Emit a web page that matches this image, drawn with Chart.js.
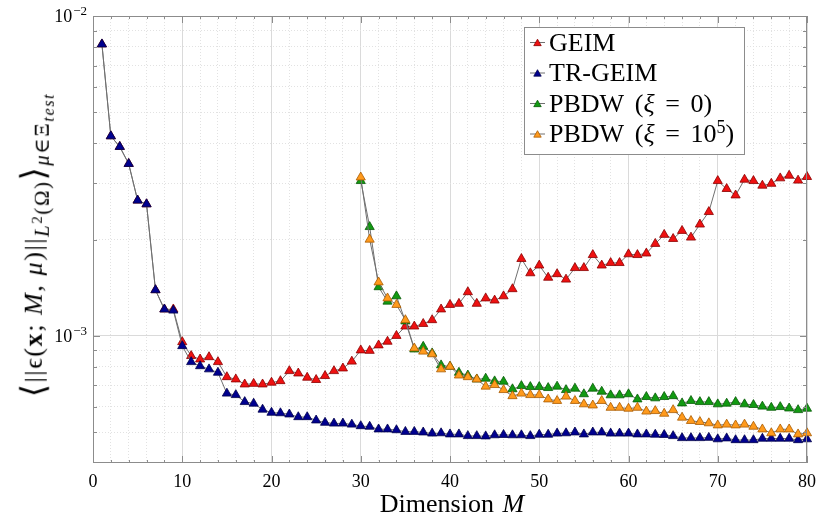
<!DOCTYPE html>
<html>
<head>
<meta charset="utf-8">
<script src="https://cdn.jsdelivr.net/npm/chart.js@4.4.1/dist/chart.umd.min.js"></script>
<style>
  body { margin: 0; background: #fff; }
  #wrap { position: relative; width: 824px; height: 522px; }
  #ylab {
    position: absolute; left: 36px; top: 245px;
    transform: translate(-50%, -50%) rotate(-90deg);
    white-space: nowrap; line-height: 1; letter-spacing: 1.6px;
    font: 26px "Liberation Serif", "DejaVu Serif", serif; color: #000;
  }
  #ylab .br { font-size: 1.3em; vertical-align: -0.08em; }
  #ylab sub { font-size: 0.8em; vertical-align: -0.32em; }
  #ylab sub sub { font-size: 0.78em; vertical-align: -0.28em; }
  #ylab sup { font-size: 0.72em; vertical-align: 0.45em; }
</style>
</head>
<body>
<div id="wrap">
  <canvas id="errChart" width="824" height="522"></canvas>
  <div id="ylab"><span class="br">⟨</span>||ϵ(<b>x</b>; <i>M</i>, <i>μ</i>)||<sub><i>L</i><sup>2</sup>(Ω)</sub><span class="br">⟩</span><sub><i>μ</i>∈Ξ<sub><i>test</i></sub></sub></div>
</div>
<script>
// reduced basis dimension M
const dims = Array.from({ length: 80 }, (_, i) => i + 1);
const pbdwDims = dims.slice(29); // PBDW starts at M = 30

const geim = [
  8.16e-3, 4.21e-3, 3.90e-3, 3.45e-3, 2.65e-3, 2.58e-3, 1.39e-3, 1.21e-3, 1.21e-3, 9.56e-4,
  8.65e-4, 8.44e-4, 8.58e-4, 8.28e-4, 7.43e-4, 7.31e-4, 7.05e-4, 7.08e-4, 7.05e-4, 7.14e-4,
  7.22e-4, 7.76e-4, 7.63e-4, 7.40e-4, 7.28e-4, 7.49e-4, 7.76e-4, 7.91e-4, 8.31e-4, 9.01e-4,
  8.98e-4, 9.34e-4, 9.59e-4, 1.00e-3, 1.07e-3, 1.07e-3, 1.09e-3, 1.12e-3, 1.21e-3, 1.25e-3,
  1.26e-3, 1.37e-3, 1.26e-3, 1.31e-3, 1.29e-3, 1.33e-3, 1.40e-3, 1.74e-3, 1.57e-3, 1.66e-3,
  1.52e-3, 1.56e-3, 1.50e-3, 1.63e-3, 1.63e-3, 1.79e-3, 1.66e-3, 1.69e-3, 1.69e-3, 1.80e-3,
  1.79e-3, 1.81e-3, 1.94e-3, 2.07e-3, 2.01e-3, 2.13e-3, 2.03e-3, 2.23e-3, 2.44e-3, 3.05e-3,
  2.88e-3, 2.75e-3, 3.08e-3, 3.05e-3, 2.95e-3, 2.99e-3, 3.11e-3, 3.17e-3, 3.06e-3, 3.14e-3,
];

const trGeim = [
  8.16e-3, 4.21e-3, 3.90e-3, 3.45e-3, 2.65e-3, 2.58e-3, 1.39e-3, 1.21e-3, 1.20e-3, 9.29e-4,
  8.28e-4, 8.04e-4, 7.86e-4, 7.67e-4, 6.60e-4, 6.53e-4, 6.21e-4, 6.14e-4, 5.88e-4, 5.75e-4,
  5.73e-4, 5.68e-4, 5.57e-4, 5.57e-4, 5.44e-4, 5.35e-4, 5.32e-4, 5.32e-4, 5.28e-4, 5.22e-4,
  5.20e-4, 5.10e-4, 5.10e-4, 5.07e-4, 5.01e-4, 5.01e-4, 4.99e-4, 4.95e-4, 4.96e-4, 4.92e-4,
  4.92e-4, 4.86e-4, 4.86e-4, 4.85e-4, 4.89e-4, 4.90e-4, 4.89e-4, 4.89e-4, 4.86e-4, 4.91e-4,
  4.91e-4, 4.95e-4, 4.96e-4, 4.99e-4, 4.92e-4, 4.99e-4, 4.99e-4, 4.95e-4, 4.95e-4, 4.95e-4,
  4.92e-4, 4.92e-4, 4.91e-4, 4.90e-4, 4.86e-4, 4.79e-4, 4.79e-4, 4.79e-4, 4.80e-4, 4.75e-4,
  4.78e-4, 4.72e-4, 4.72e-4, 4.72e-4, 4.77e-4, 4.77e-4, 4.77e-4, 4.77e-4, 4.72e-4, 4.75e-4,
];

const pbdw0 = [
  3.05e-3, 2.19e-3, 1.42e-3, 1.28e-3, 1.33e-3, 1.11e-3, 9.07e-4, 9.25e-4, 8.82e-4, 8.09e-4,
  8.01e-4, 7.67e-4, 7.52e-4, 7.31e-4, 7.35e-4, 7.21e-4, 7.19e-4, 6.81e-4, 6.97e-4, 6.92e-4,
  6.92e-4, 6.87e-4, 6.94e-4, 6.77e-4, 6.84e-4, 6.57e-4, 6.84e-4, 6.69e-4, 6.52e-4, 6.52e-4,
  6.57e-4, 6.33e-4, 6.44e-4, 6.38e-4, 6.44e-4, 6.48e-4, 6.15e-4, 6.26e-4, 6.21e-4, 6.21e-4,
  6.11e-4, 6.14e-4, 6.21e-4, 6.11e-4, 6.08e-4, 6.01e-4, 5.96e-4, 5.99e-4, 5.93e-4, 5.86e-4,
  5.92e-4,
];

const pbdw1e5 = [
  3.13e-3, 2.00e-3, 1.47e-3, 1.31e-3, 1.25e-3, 1.12e-3, 9.14e-4, 8.93e-4, 8.76e-4, 7.86e-4,
  8.01e-4, 7.52e-4, 7.43e-4, 7.31e-4, 6.94e-4, 7.02e-4, 6.77e-4, 6.48e-4, 6.60e-4, 6.53e-4,
  6.53e-4, 6.33e-4, 6.26e-4, 6.46e-4, 6.26e-4, 6.11e-4, 6.06e-4, 6.26e-4, 5.96e-4, 5.96e-4,
  5.92e-4, 5.96e-4, 5.80e-4, 5.82e-4, 5.71e-4, 5.86e-4, 5.55e-4, 5.42e-4, 5.38e-4, 5.33e-4,
  5.25e-4, 5.28e-4, 5.25e-4, 5.28e-4, 5.20e-4, 5.10e-4, 4.96e-4, 5.10e-4, 5.10e-4, 4.92e-4,
  4.96e-4,
];

const seriesLabels = ["GEIM", "TR-GEIM", "PBDW (ξ = 0)", "PBDW (ξ = 10⁵)"];
const xTitle = "Dimension M";

// tick positions: x every 2, y at 1..9 per decade
const xTicks = [];
for (let v = 0; v <= 80; v += 2) xTicks.push(v);
const yTicks = [5e-4, 6e-4, 7e-4, 8e-4, 9e-4, 1e-3, 2e-3, 3e-3, 4e-3, 5e-3, 6e-3, 7e-3, 8e-3, 9e-3, 1e-2];
const yDecades = [1e-3, 1e-2];

const SERIF = '"Liberation Serif", "DejaVu Serif", serif';
const isDecade = (v) => Math.abs(Math.log10(v) - Math.round(Math.log10(v))) < 1e-9;

const pts = (xs, ys) => xs.map((x, i) => ({ x, y: ys[i] }));

const makeSet = (label, data, fill, edge, order) => ({
  label,
  data,
  order,
  borderColor: "#707070",
  borderWidth: 1,
  pointStyle: "triangle",
  pointRadius: 5.3,
  pointBorderWidth: 0.8,
  pointBackgroundColor: fill,
  pointBorderColor: edge,
  tension: 0,
  clip: false,
});

// draws text with italic greek letters / math symbols and raised superscript digits
function drawRich(ctx, text, x, base, size, italicChars = "", spaceExtra = 0.16) {
  const supDigits = "⁰¹²³⁴⁵⁶⁷⁸⁹";
  const runs = [];
  for (const ch of text) {
    let t = ch, dy = 0, font = `${size}px ${SERIF}`, extra = 0;
    if (/[α-ω]/.test(ch) || italicChars.includes(ch)) font = `italic ${size}px ${SERIF}`;
    if (ch === " ") extra = size * spaceExtra;
    const s = supDigits.indexOf(ch);
    if (s >= 0) { t = String(s); font = `${Math.round(size * 0.7)}px ${SERIF}`; dy = -size * 0.36; }
    runs.push({ t, dy, font, extra });
  }
  let w = 0;
  runs.forEach((r) => { ctx.font = r.font; w += ctx.measureText(r.t).width + r.extra; });
  if (ctx.textAlign === "center") x -= w / 2;
  const align = ctx.textAlign;
  ctx.textAlign = "left";
  runs.forEach((r) => {
    ctx.font = r.font;
    ctx.fillText(r.t, x, base + r.dy);
    x += ctx.measureText(r.t).width + r.extra;
  });
  ctx.textAlign = align;
}

// axes box with inward ticks, decade labels and x title
const frame = {
  id: "frame",
  afterDatasetsDraw(chart) {
    const { ctx, chartArea: a, scales: { x, y } } = chart;
    ctx.save();
    ctx.strokeStyle = "#8c8c8c";
    ctx.lineWidth = 1;
    ctx.strokeRect(a.left + 0.5, a.top + 0.5, a.right - a.left - 1, a.bottom - a.top - 1);
    ctx.beginPath();
    xTicks.forEach((v) => {
      const px = Math.round(x.getPixelForValue(v)) + 0.5;
      const len = v % 10 === 0 ? 7 : 3;
      ctx.moveTo(px, a.bottom); ctx.lineTo(px, a.bottom - len);
      ctx.moveTo(px, a.top); ctx.lineTo(px, a.top + len);
    });
    yTicks.forEach((v) => {
      const py = Math.round(y.getPixelForValue(v)) + 0.5;
      const len = isDecade(v) ? 7 : 4;
      ctx.moveTo(a.left, py); ctx.lineTo(a.left + len, py);
      ctx.moveTo(a.right, py); ctx.lineTo(a.right - len, py);
    });
    ctx.stroke();

    ctx.fillStyle = "#000";
    ctx.textAlign = "right";
    ctx.textBaseline = "alphabetic";
    yDecades.forEach((v) => {
      const py = y.getPixelForValue(v);
      const sup = "−" + String(-Math.round(Math.log10(v)));
      ctx.font = `13px ${SERIF}`;
      const supW = ctx.measureText(sup).width;
      ctx.fillText(sup, a.left - 6, py - 1);
      ctx.font = `18px ${SERIF}`;
      ctx.fillText("10", a.left - 7 - supW, py + 6);
    });

    ctx.textAlign = "center";
    drawRich(ctx, xTitle, (a.left + a.right) / 2 + 2, 512, 26, "M", 0.08);
    ctx.restore();
  },
};

const legendBox = {
  id: "legendBox",
  afterDraw(chart) {
    const ctx = chart.ctx;
    const bx = 524.5, by = 27.5, bw = 220, bh = 127;
    ctx.save();
    ctx.fillStyle = "#fff";
    ctx.fillRect(bx, by, bw, bh);
    ctx.strokeStyle = "#8c8c8c";
    ctx.lineWidth = 1;
    ctx.strokeRect(bx, by, bw, bh);
    chart.data.datasets.forEach((ds, i) => {
      const cy = 42.5 + i * 30.5;
      ctx.strokeStyle = ds.borderColor;
      ctx.lineWidth = 1;
      ctx.beginPath();
      ctx.moveTo(530, cy); ctx.lineTo(545, cy);
      ctx.stroke();
      ctx.fillStyle = ds.pointBackgroundColor;
      ctx.strokeStyle = ds.pointBorderColor;
      ctx.lineWidth = 0.8;
      Chart.helpers.drawPoint(ctx, { pointStyle: "triangle", radius: 4.3, borderWidth: 0.8, rotation: 0 }, 537.5, cy + 1);
      ctx.fillStyle = "#000";
      ctx.textAlign = "left";
      ctx.textBaseline = "alphabetic";
      drawRich(ctx, ds.label, 549, cy + 8, 26);
    });
    ctx.restore();
  },
};

const config = {
  type: "line",
  data: {
    datasets: [
      makeSet(seriesLabels[0], pts(dims, geim), "#ee1111", "#8a0000", 4),
      makeSet(seriesLabels[1], pts(dims, trGeim), "#00008f", "#00004a", 3),
      makeSet(seriesLabels[2], pts(pbdwDims, pbdw0), "#129a12", "#085a08", 2),
      makeSet(seriesLabels[3], pts(pbdwDims, pbdw1e5), "#ff9a1c", "#a85a00", 1),
    ],
  },
  options: {
    responsive: false,
    animation: false,
    events: [],
    layout: { padding: { top: 16, right: 9, left: 0, bottom: 0 } },
    plugins: { legend: { display: false }, tooltip: { enabled: false } },
    scales: {
      x: {
        type: "linear",
        min: 0,
        max: 80,
        afterBuildTicks: (s) => { s.ticks = xTicks.map((value) => ({ value })); },
        afterFit: (s) => { s.height = 59; },
        ticks: {
          autoSkip: false,
          maxRotation: 0,
          padding: 8,
          color: "#000",
          font: { family: SERIF, size: 18 },
          callback: (v) => (v % 10 === 0 ? String(v) : ""),
        },
        grid: {
          drawTicks: false,
          lineWidth: 1,
          color: (c) => (c.tick && c.tick.value % 10 === 0 ? "#dadada" : "#e2e2e2"),
        },
        border: {
          display: false,
          dash: (c) => (c.tick && c.tick.value % 10 !== 0 ? [1, 2] : []),
        },
      },
      y: {
        type: "logarithmic",
        min: 4e-4,
        max: 1e-2,
        afterBuildTicks: (s) => { s.ticks = yTicks.map((value) => ({ value })); },
        afterFit: (s) => { s.width = 93; },
        ticks: { display: false },
        grid: {
          drawTicks: false,
          lineWidth: 1,
          color: (c) => (c.tick && isDecade(c.tick.value) ? "#dadada" : "#e2e2e2"),
        },
        border: {
          display: false,
          dash: (c) => (c.tick && !isDecade(c.tick.value) ? [1, 2] : []),
        },
      },
    },
  },
  plugins: [frame, legendBox],
};

const chart = new Chart(document.getElementById("errChart"), config);
</script>
</body>
</html>
